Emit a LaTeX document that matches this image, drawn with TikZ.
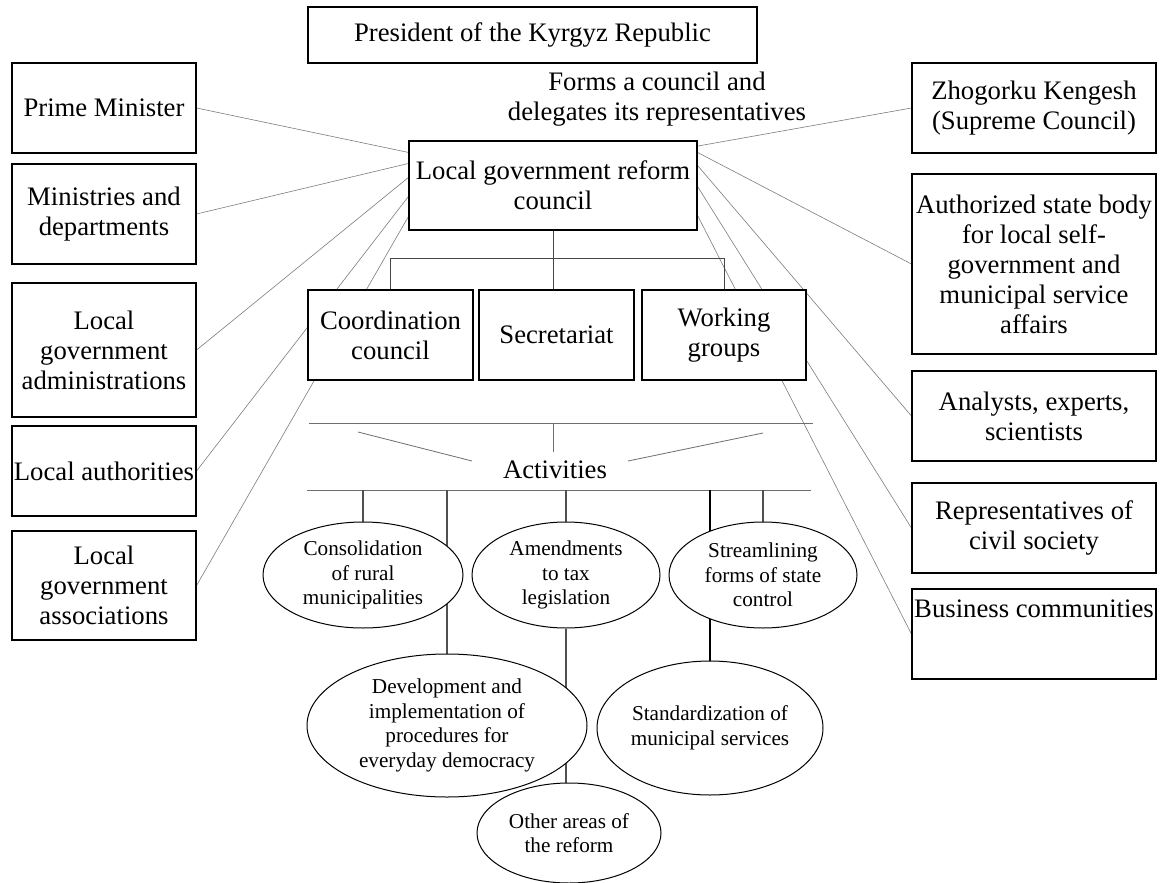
\documentclass[tikz,border=0pt]{standalone}
\usepackage{fontspec}
\setmainfont{Liberation Serif}
\usetikzlibrary{shapes.geometric}
\pgfdeclarelayer{bg}
\pgfdeclarelayer{lines}
\pgfsetlayers{bg,lines,main}
\definecolor{linkgray}{RGB}{125,125,125}
\definecolor{brkgray}{RGB}{70,70,70}
\definecolor{actgray}{RGB}{110,110,110}
\definecolor{vgray}{RGB}{80,80,80}
\tikzset{
  box/.style={draw=black, line width=1.1pt, fill=white, inner sep=0pt, align=center,
    font=\fontsize{26.7}{30}\selectfont},
  bigtext/.style={inner sep=0pt, align=center, font=\fontsize{26.7}{30}\selectfont},
  ell/.style={ellipse, draw=black, line width=1pt, fill=white, inner sep=0pt, align=center,
    font=\fontsize{21.2}{24.5}\selectfont},
  link/.style={draw=linkgray, line width=0.6pt},
  brk/.style={draw=brkgray, line width=0.9pt},
  actline/.style={draw=actgray, line width=0.8pt},
  vline/.style={draw=vgray, line width=1.2pt}
}
\begin{document}
\begin{tikzpicture}[x=1pt,y=-1pt]
\useasboundingbox (0,0) rectangle (1162,883);
\begin{pgfonlayer}{bg}
\fill[white] (0,0) rectangle (1162,883);
\end{pgfonlayer}

% top
\node[box, minimum width=449pt, minimum height=56pt] (pres) at (532.5,35) {President of the Kyrgyz Republic};
\node[bigtext] (forms) at (657,99) {Forms a council and\\delegates its representatives};

% left boxes
\node[box, minimum width=184pt, minimum height=90pt] (pm) at (104,108) {Prime Minister};
\node[box, minimum width=184pt, minimum height=100pt] (min) at (104,214) {Ministries and\\departments};
\node[box, minimum width=184pt, minimum height=134pt] (adm) at (104,350) {Local\\government\\administrations};
\node[box, minimum width=184pt, minimum height=90pt] (auth) at (104,471) {Local authorities};
\node[box, minimum width=184pt, minimum height=109pt] (assoc) at (104,585.5) {Local\\government\\associations};

% right boxes
\node[box, minimum width=244pt, minimum height=90pt] (zho) at (1034,108) {Zhogorku Kengesh\\(Supreme Council)};
\node[box, minimum width=244pt, minimum height=180pt] (authz) at (1034,264) {Authorized state body\\for local self-\\government and\\municipal service\\affairs};
\node[box, minimum width=244pt, minimum height=90pt] (anal) at (1034,416) {Analysts, experts,\\scientists};
\node[box, minimum width=244pt, minimum height=90pt] (rep) at (1034,528) {Representatives of\\civil society};
\node[box, minimum width=244pt, minimum height=90pt] (bus) at (1034,634) {};
\node[bigtext] (bustext) at (1034,609) {Business communities};

% centre
\node[box, minimum width=288pt, minimum height=89pt] (council) at (553,185.5) {Local government reform\\council};
\node[box, minimum width=165pt, minimum height=90pt] (coord) at (390.5,335) {Coordination\\council};
\node[box, minimum width=155pt, minimum height=90pt] (sec) at (556.5,335) {Secretariat};
\node[box, minimum width=164pt, minimum height=90pt] (work) at (724,335) {Working\\groups};

\coordinate (bar) at (553,258);

% activities
\node[bigtext] (act) at (555,470) {Activities};
\coordinate (t1) at (309,423);
\coordinate (t2) at (813,423);
\coordinate (tm) at (553,423);
\coordinate (tmb) at (553,452);
\coordinate (dl1) at (358,432);
\coordinate (dl2) at (472,461);
\coordinate (dr1) at (763,433);
\coordinate (dr2) at (628,461);
\coordinate (b1) at (307,490);
\coordinate (b2) at (811,490);

% ellipses
\node[ell, minimum width=200pt, minimum height=106pt] (cons) at (363,575) {Consolidation\\of rural\\municipalities};
\node[ell, minimum width=188pt, minimum height=106pt] (amend) at (566,575) {Amendments\\to tax\\legislation};
\node[ell, minimum width=188pt, minimum height=106pt] (stream) at (763,575) {Streamlining\\forms of state\\control};
\node[ell, minimum width=280pt, minimum height=143pt] (dev) at (447,725.5) {Development and\\implementation of\\procedures for\\everyday democracy};
\node[ell, minimum width=226pt, minimum height=134pt] (std) at (710,728) {Standardization of\\municipal services};
\node[ell, minimum width=184pt, minimum height=100pt] (other) at (569,833) {Other areas of\\the reform};

\begin{pgfonlayer}{lines}
% left connectors
\draw[link] (pm.east) -- ([yshift=-12pt]council.north west);
\draw[link] (min.east) -- ([yshift=-23pt]council.north west);
\draw[link] (adm.east) -- ([yshift=-37pt]council.north west);
\draw[link] (auth.east) -- ([yshift=-56pt]council.north west);
\draw[link] (assoc.east) -- ([yshift=-76pt]council.north west);
% right connectors
\draw[link] (zho.west) -- ([xshift=-2pt,yshift=-6pt]council.north east);
\draw[link] (authz.west) -- ([yshift=-12pt]council.north east);
\draw[link] (anal.west) -- ([yshift=-25pt]council.north east);
\draw[link] (rep.west) -- ([yshift=-46pt]council.north east);
\draw[link] (bus.west) -- ([yshift=-75pt]council.north east);
% bracket
\draw[brk] (council.south) -- (council.south |- sec.north);
\draw[brk] (coord.north) -- (coord.north |- bar) -- (work.north |- bar) -- (work.north);
% activities lines
\draw[actline] (t1) -- (t2);
\draw[actline] (tm) -- (tmb);
\draw[actline] (dl1) -- (dl2);
\draw[actline] (dr1) -- (dr2);
\draw[actline] (b1) -- (b2);
% verticals
\draw[vline] (cons.north |- b1) -- (cons.north);
\draw[vline] (dev.north |- b1) -- (dev.north);
\draw[vline] (amend.north |- b1) -- (amend.north);
\draw[vline] (amend.south) -- (amend.south |- other.north);
\draw[vline, draw=black] (std.north |- b1) -- (std.north);
\draw[vline] (stream.north |- b1) -- (stream.north);
\end{pgfonlayer}
\end{tikzpicture}
\end{document}
